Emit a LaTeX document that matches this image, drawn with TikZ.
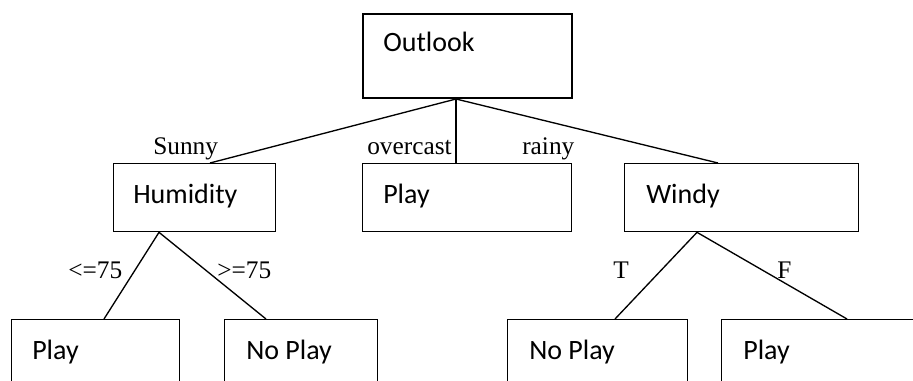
\documentclass[tikz,border=0pt]{standalone}
\usepackage{fontspec}
\setmainfont{Liberation Serif}
\newfontfamily\boxfont{Carlito}
\usetikzlibrary{calc}

\tikzset{
  box/.style={draw, line width=1pt, anchor=north west, inner sep=0pt},
  boxtext/.style={anchor=base west, inner sep=0pt, font=\boxfont\fontsize{21}{25}\selectfont},
  cond/.style={anchor=base west, inner sep=0pt, font=\fontsize{19}{22}\selectfont},
  branch/.style={line width=1pt}
}

\begin{document}
\begin{tikzpicture}[x=0.75pt,y=0.75pt,yscale=-1,xscale=1]
            \useasboundingbox (0,0) rectangle (913,381);
            \clip (0,0) rectangle (913,381);
            % Boxes
            \node[box, line width=1.5pt, minimum width=209*0.75pt, minimum height=84*0.75pt] (outlook) at (362,13) {};
            \node[box, minimum width=162*0.75pt, minimum height=68*0.75pt] (humidity) at (113,163) {};
            \node[box, minimum width=209*0.75pt, minimum height=68*0.75pt] (playM) at (362,163) {};
            \node[box, minimum width=234*0.75pt, minimum height=68*0.75pt] (windy) at (624,163) {};
            \node[box, minimum width=168*0.75pt, minimum height=100*0.75pt] (playL) at (11,319) {};
            \node[box, minimum width=153*0.75pt, minimum height=100*0.75pt] (noplayL) at (224,319) {};
            \node[box, minimum width=180*0.75pt, minimum height=100*0.75pt] (noplayR) at (507,319) {};
            \node[box, minimum width=250*0.75pt, minimum height=100*0.75pt] (playR) at (721,319) {};
            
            % Box texts
            \node[boxtext] (outlookT) at ($(outlook.north west)+(21,39)$) {Outlook};
            \node[boxtext] (humidityT) at ($(humidity.north west)+(20,40)$) {Humidity};
            \node[boxtext] (playMT) at ($(playM.north west)+(21,40)$) {Play};
            \node[boxtext] (windyT) at ($(windy.north west)+(22,40)$) {Windy};
            \node[boxtext] (playLT) at ($(playL.north west)+(21,40)$) {Play};
            \node[boxtext] (noplayLT) at ($(noplayL.north west)+(22,40)$) {No Play};
            \node[boxtext] (noplayRT) at ($(noplayR.north west)+(22,40)$) {No Play};
            \node[boxtext] (playRT) at ($(playR.north west)+(22,40)$) {Play};
            
            % Branches
            \draw[branch] ($(outlook.south west)+(94,0)$) -- ($(humidity.north west)+(97,0)$);
            \draw[branch] ($(outlook.south west)+(94,0)$) -- ($(playM.north west)+(94,0)$);
            \draw[branch] ($(outlook.south west)+(94,0)$) -- ($(windy.north west)+(94,0)$);
            \draw[branch] ($(humidity.south west)+(46,0)$) -- ($(playL.north west)+(93,0)$);
            \draw[branch] ($(humidity.south west)+(46,0)$) -- ($(noplayL.north west)+(42,0)$);
            \draw[branch] ($(windy.south west)+(73,0)$) -- ($(noplayR.north west)+(108,0)$);
            \draw[branch] ($(windy.south west)+(73,0)$) -- ($(playR.north west)+(126,0)$);
            
            % Branch labels
            \node[cond] (sunny) at (153,155) {Sunny};
            \node[cond] (overcast) at (367,155) {overcast};
            \node[cond] (rainy) at (522,155) {rainy};
            \node[cond] (low) at (68,278) {<=75};
            \node[cond] (high) at (217,278) {>=75};
            \node[cond] (true) at (613,278) {T};
            \node[cond] (false) at (777,278) {F};
        \end{tikzpicture}
\end{document}
